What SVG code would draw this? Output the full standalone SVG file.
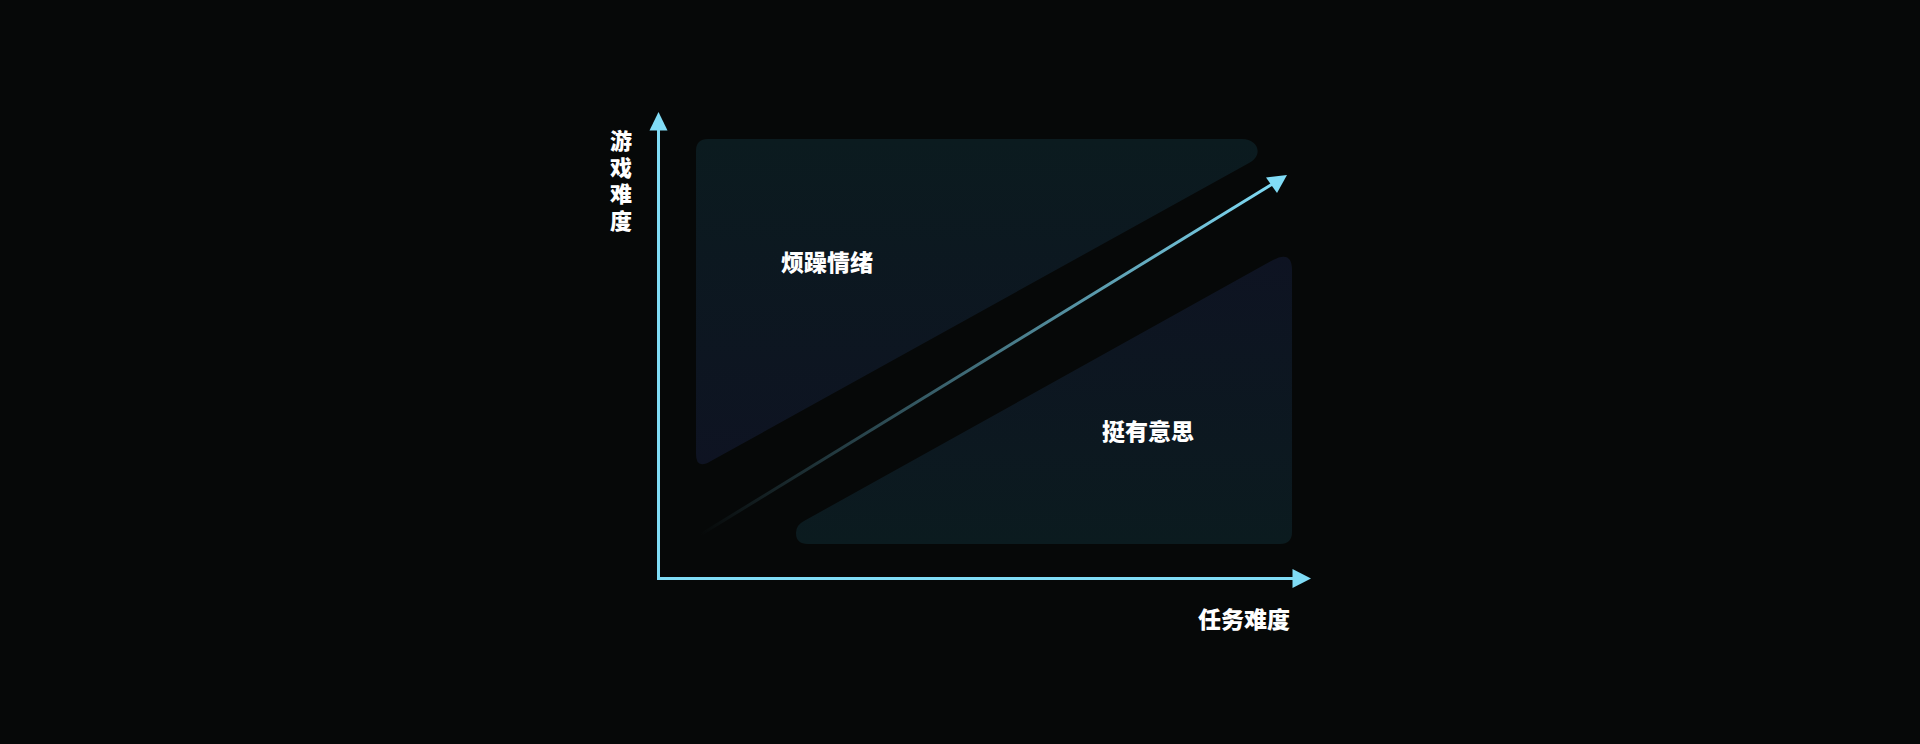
<svg xmlns="http://www.w3.org/2000/svg" width="1920" height="744" viewBox="0 0 1920 744">
  <style>
    .lbl { font-family: "Noto Sans CJK SC", "Noto Sans", sans-serif; font-weight: 900; font-size: 23px; fill: #ffffff; text-anchor: middle; dominant-baseline: central; }
    .vlbl { font-size: 22px; writing-mode: vertical-rl; letter-spacing: 4.5px; }
    .axis { stroke: #80dcf6; stroke-width: 3; fill: none; }
    .head { fill: #80dcf6; }
  </style>
  <defs>
    <linearGradient id="gTop" x1="0" y1="139" x2="0" y2="466" gradientUnits="userSpaceOnUse">
      <stop offset="0" stop-color="#0b1b1f"/>
      <stop offset="1" stop-color="#0e1322"/>
    </linearGradient>
    <linearGradient id="gBot" x1="0" y1="256" x2="0" y2="544" gradientUnits="userSpaceOnUse">
      <stop offset="0" stop-color="#0e1322"/>
      <stop offset="1" stop-color="#0b1b1f"/>
    </linearGradient>
    <linearGradient id="gDiag" x1="700" y1="535" x2="1275" y2="183" gradientUnits="userSpaceOnUse">
      <stop offset="0" stop-color="#80dcf6" stop-opacity="0"/>
      <stop offset="1" stop-color="#80dcf6" stop-opacity="1"/>
    </linearGradient>
  </defs>
  <rect width="1920" height="744" fill="#060808"/>

  <g id="zone-fidget">
    <path d="M 696,151 Q 696,139 708,139 L 1242,139 C 1258,139 1264,155 1249,163 L 711,461 Q 696,470 696,454 Z" fill="url(#gTop)"/>
    <text class="lbl" x="827" y="261">烦躁情绪</text>
  </g>

  <g id="zone-fun">
    <path d="M 1292,270 L 1292,532 Q 1292,544 1280,544 L 808,544 Q 796,544 796,533 Q 796,525 804,521 L 1273,260 Q 1292,250 1292,270 Z" fill="url(#gBot)"/>
    <text class="lbl" x="1148" y="430">挺有意思</text>
  </g>

  <g id="connectors">
    <line class="axis" x1="658.5" y1="578.5" x2="658.5" y2="128"/>
    <polygon class="head" points="658.5,112 649.5,130.5 667.5,130.5"/>
    <line class="axis" x1="657" y1="578.5" x2="1295" y2="578.5"/>
    <polygon class="head" points="1311,578.5 1292.5,569 1292.5,588"/>
    <line x1="700" y1="535" x2="1274" y2="183" stroke="url(#gDiag)" stroke-width="3"/>
    <polygon class="head" points="1287,175 1266,177.5 1277,193"/>
  </g>

  <g id="axis-labels">
    <text class="lbl vlbl" x="621" y="183">游戏难度</text>
    <text class="lbl" x="1244" y="617.5">任务难度</text>
  </g>
</svg>
